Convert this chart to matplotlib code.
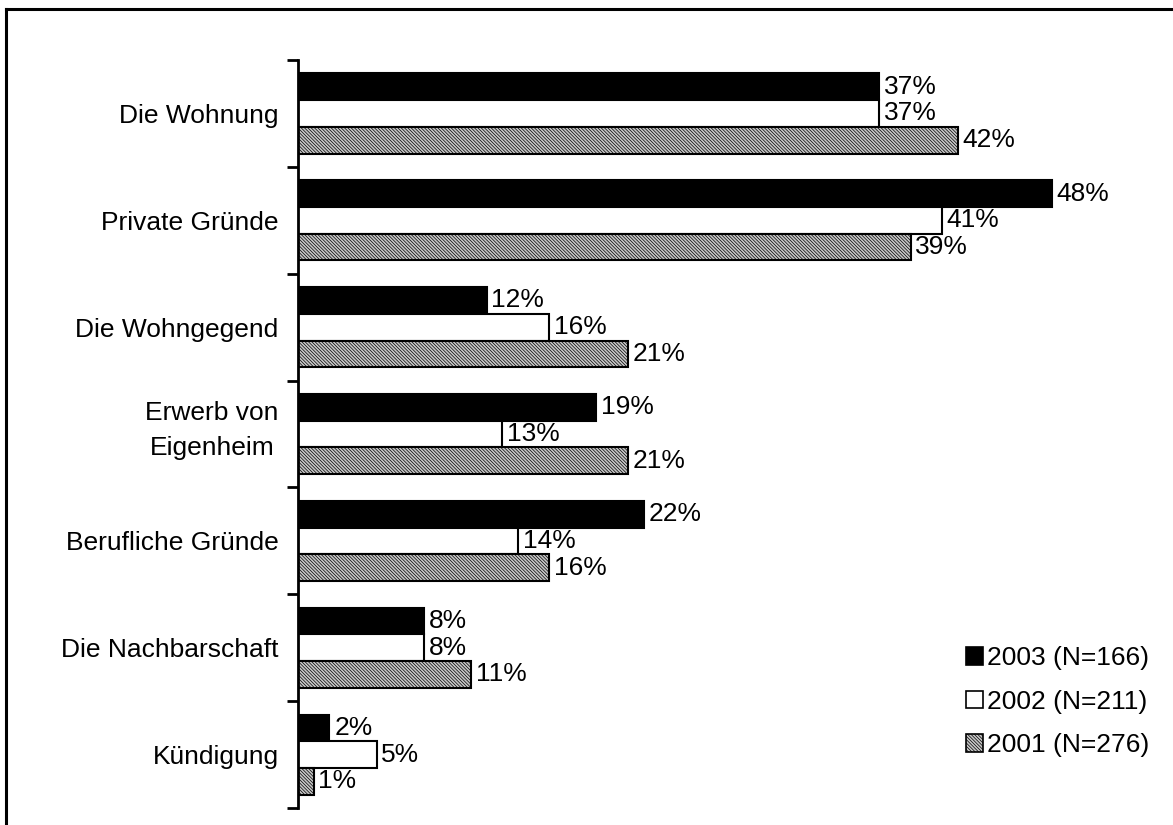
import matplotlib.pyplot as plt
import matplotlib.transforms as mtransforms
import numpy as np
from matplotlib.patches import Patch
from matplotlib.lines import Line2D

plt.rcParams['font.family'] = ['Liberation Sans', 'DejaVu Sans']
plt.rcParams['hatch.linewidth'] = 0.5

categories = ["Die Wohnung", "Private Gründe", "Die Wohngegend",
              "Erwerb von\nEigenheim", "Berufliche Gründe",
              "Die Nachbarschaft", "Kündigung"]
vals_2003 = [37, 48, 12, 19, 22, 8, 2]
vals_2002 = [37, 41, 16, 13, 14, 8, 5]
vals_2001 = [42, 39, 21, 21, 16, 11, 1]
series_labels = ["2003 (N=166)", "2002 (N=211)", "2001 (N=276)"]

fig = plt.figure(figsize=(11.73, 8.25), dpi=100)
ax = fig.add_axes([298 / 1173, 17 / 825, 864 / 1173, 748 / 825])

y = np.arange(len(categories))
h = 0.25
fine_hatch = "\\" * 10
styles = [dict(color="black", edgecolor="black"),
          dict(color="white", edgecolor="black"),
          dict(color="#c8c8c8", edgecolor="black", hatch=fine_hatch)]
all_vals = [vals_2003, vals_2002, vals_2001]

handles = []
for i, (vals, st) in enumerate(zip(all_vals, styles)):
    bars = ax.barh(y - h + i * h, vals, height=h, linewidth=1.5, **st)
    for b, v in zip(bars, vals):
        ax.text(b.get_width() + 0.3, b.get_y() + b.get_height() / 2, f"{v}%",
                va="center", ha="left", fontsize=19)
    handles.append(Patch(facecolor=st["color"], edgecolor="black",
                         hatch=st.get("hatch"), linewidth=1.2))

ax.set_xlim(0, 55)
ax.set_ylim(len(categories) - 0.5, -0.5)
ax.set_yticks(y)
ax.set_yticklabels(categories, fontsize=19, linespacing=1.55, ha="right",
                   multialignment="center")
ax.tick_params(axis="y", which="major", length=0, pad=14)
ax.set_yticks(np.arange(-0.5, len(categories)), minor=True)
ax.tick_params(axis="y", which="minor", length=8, width=2, direction="out")
ax.set_xticks([])
for s in ["top", "right", "bottom"]:
    ax.spines[s].set_visible(False)
ax.spines["left"].set_linewidth(2)

# two-line label sits a bit higher in the original
lbl = ax.get_yticklabels()[3]
lbl.set_transform(lbl.get_transform() +
                  mtransforms.ScaledTranslation(0, 8 / 72, fig.dpi_scale_trans))

fig.legend(handles, series_labels, loc="upper left",
           bbox_to_anchor=(953 / 1173, 1 - 633 / 825), frameon=False,
           fontsize=19, handlelength=0.65, handleheight=0.65,
           handletextpad=0.15, labelspacing=0.74, borderpad=0)

# frame lines at top and left of the picture
fig.add_artist(Line2D([6 / 1173, 1], [1 - 9 / 825, 1 - 9 / 825],
                      transform=fig.transFigure, color="black", lw=2.2))
fig.add_artist(Line2D([6 / 1173, 6 / 1173], [0, 1 - 9 / 825],
                      transform=fig.transFigure, color="black", lw=2.2))

fig.savefig("out.png", dpi=100)
